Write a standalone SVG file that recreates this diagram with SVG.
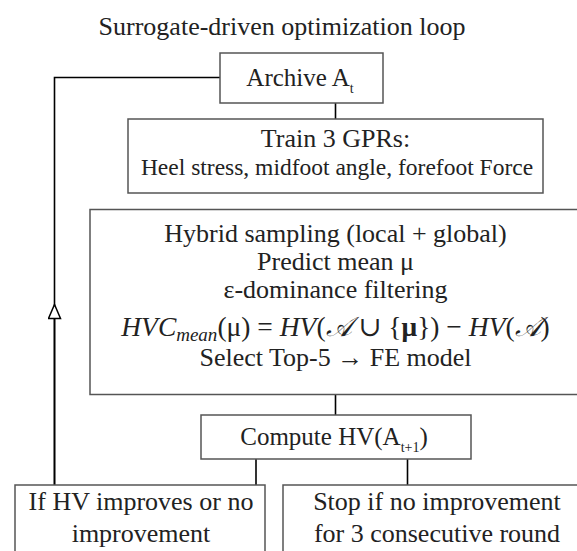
<svg xmlns="http://www.w3.org/2000/svg" width="577" height="551" viewBox="0 0 577 551">
  <style>
    .box { fill: #ffffff; stroke: #555555; stroke-width: 1.5; }
    .link { fill: none; stroke: #000000; stroke-width: 1.6; }
    text { font-family: "Liberation Serif", "Times New Roman", serif; fill: #222222; text-anchor: middle; }
    .t26 { font-size: 26px; }
    .t25 { font-size: 25px; }
    .t23 { font-size: 23.5px; }
    .math { font-family: "Liberation Serif", "DejaVu Serif", serif; font-size: 27.5px; }
  </style>
  <defs>
    <marker id="openTri" viewBox="0 0 16 14" refX="8" refY="7" markerWidth="16" markerHeight="14" markerUnits="userSpaceOnUse" orient="auto">
      <polygon points="1,1 15,7 1,13" fill="#ffffff" stroke="#000000" stroke-width="1.5"/>
    </marker>
  </defs>

  <rect width="577" height="551" fill="#ffffff"/>

  <!-- title -->
  <text x="282" y="35" style="font-size:26px">Surrogate-driven optimization loop</text>

  <!-- connectors -->
  <g id="connectors">
    <path class="link" d="M54.5,485 V77.5 H220"/>
    <path class="link" d="M54.5,485 V311.5" marker-end="url(#openTri)"/>
    <path class="link" d="M335.5,103 V119"/>
    <path class="link" d="M335.5,394 V415"/>
    <path class="link" d="M256,459 V485"/>
    <path class="link" d="M407.5,459 V485"/>
  </g>

  <!-- archive -->
  <g id="archive">
    <rect class="box" x="220" y="53" width="163" height="50"/>
    <text class="t25" x="300" y="86">Archive A<tspan font-size="14" dy="7">t</tspan></text>
  </g>

  <!-- surrogate training -->
  <g id="train">
    <rect class="box" x="128" y="119" width="415" height="74"/>
    <text class="t26" x="335.5" y="147">Train 3 GPRs:</text>
    <text class="t23" x="337" y="175">Heel stress, midfoot angle, forefoot Force</text>
  </g>

  <!-- candidate generation and selection -->
  <g id="sampling">
    <rect class="box" x="90" y="209.5" width="500" height="185"/>
    <text class="t26" x="335.5" y="242">Hybrid sampling (local + global)</text>
    <text class="t26" x="335.5" y="270">Predict mean μ</text>
    <text class="t26" x="335.5" y="298">ε-dominance filtering</text>
    <text class="math" x="335.5" y="336"><tspan font-style="italic">HVC</tspan><tspan font-style="italic" font-size="19" dy="5">mean</tspan><tspan dy="-5">(μ) = </tspan><tspan font-style="italic">HV</tspan>(<tspan font-family="DejaVu Serif, serif" font-style="italic">𝒜</tspan> ∪ {<tspan font-weight="bold">μ</tspan>}) − <tspan font-style="italic">HV</tspan>(<tspan font-family="DejaVu Serif, serif" font-style="italic">𝒜</tspan>)</text>
    <text class="t26" x="335.5" y="366">Select Top-5 → FE model</text>
  </g>

  <!-- hypervolume update -->
  <g id="compute">
    <rect class="box" x="201" y="415" width="270" height="44"/>
    <text class="t25" x="334" y="445">Compute HV(A<tspan font-size="14" dy="7">t+1</tspan><tspan dy="-7">)</tspan></text>
  </g>

  <!-- branch: continue -->
  <g id="continue">
    <rect class="box" x="15" y="485" width="250" height="80"/>
    <text class="t26" x="141" y="510">If HV improves or no</text>
    <text class="t26" x="141" y="542">improvement</text>
  </g>

  <!-- branch: stop -->
  <g id="stop">
    <rect class="box" x="283" y="485" width="310" height="80"/>
    <text class="t26" x="437" y="510">Stop if no improvement</text>
    <text class="t26" x="437" y="542">for 3 consecutive round</text>
  </g>
</svg>
